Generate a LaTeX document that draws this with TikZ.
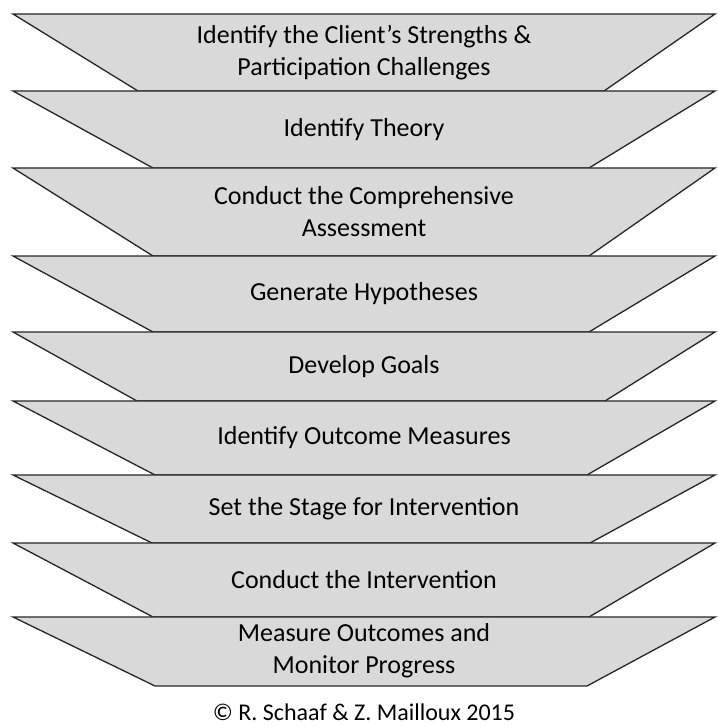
\documentclass[tikz,border=0pt]{standalone}
\usepackage{fontspec}
\setmainfont{Carlito}
\definecolor{bandgray}{HTML}{D9D9D9}
\begin{document}
\begin{tikzpicture}[x=1pt,y=-1pt]
\newcommand{\xl}{13}
\newcommand{\xr}{715}
\newcommand{\xm}{364}
\tikzstyle{band}=[draw=black!85,line width=1.3pt,fill=bandgray,line join=miter]
\tikzstyle{caption}=[align=center,inner sep=0pt,font=\fontsize{26}{32}\selectfont]
\tikzstyle{credit}=[inner sep=0pt,font=\fontsize{24}{28}\selectfont]
\useasboundingbox (0,0) rectangle (717,727);
% the nine stages, top to bottom
\draw[band] (\xl,14) -- (\xr,14) -- (604,91) -- (138,91) -- cycle;
\draw[band] (\xl,91) -- (\xr,91) -- (589,168) -- (153,168) -- cycle;
\draw[band] (\xl,168) -- (\xr,168) -- (589,256) -- (153,256) -- cycle;
\draw[band] (\xl,256) -- (\xr,256) -- (589,332) -- (153,332) -- cycle;
\draw[band] (\xl,332) -- (\xr,332) -- (605,401) -- (137,401) -- cycle;
\draw[band] (\xl,401) -- (\xr,401) -- (587,475) -- (155,475) -- cycle;
\draw[band] (\xl,475) -- (\xr,475) -- (590,543) -- (152,543) -- cycle;
\draw[band] (\xl,543) -- (\xr,543) -- (589,617) -- (153,617) -- cycle;
\draw[band] (\xl,617) -- (\xr,617) -- (587,686) -- (155,686) -- cycle;
\node[caption] (s1) at (\xm,53) {Identify the Client’s Strengths \&\\Participation Challenges};
\node[caption] (s2) at (\xm,129.5) {Identify Theory};
\node[caption] (s3) at (\xm,212) {Conduct the Comprehensive\\Assessment};
\node[caption] (s4) at (\xm,294) {Generate Hypotheses};
\node[caption] (s5) at (\xm,366.5) {Develop Goals};
\node[caption] (s6) at (\xm,438) {Identify Outcome Measures};
\node[caption] (s7) at (\xm,509) {Set the Stage for Intervention};
\node[caption] (s8) at (\xm,580) {Conduct the Intervention};
\node[caption] (s9) at (\xm,651) {Measure Outcomes and\\Monitor Progress};
\node[credit] (cr) at (\xm,712) {© R. Schaaf \& Z. Mailloux 2015};
\end{tikzpicture}
\end{document}
